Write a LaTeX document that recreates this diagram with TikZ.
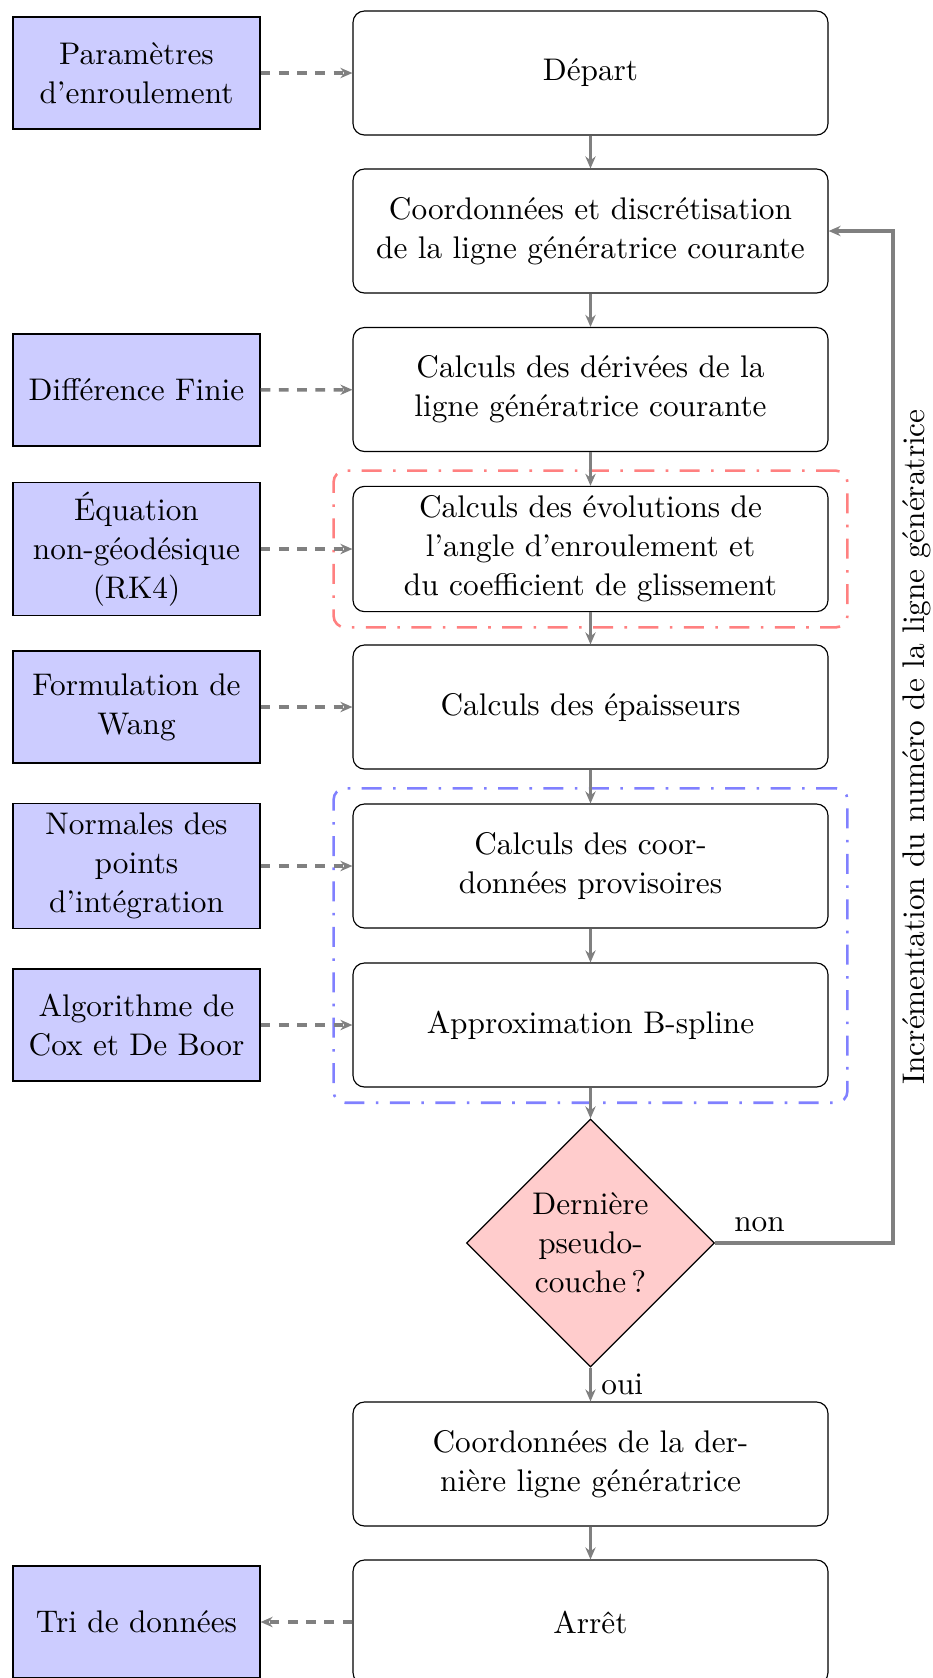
\documentclass[tikz,border=0pt]{standalone}
\usetikzlibrary{arrows.meta,shapes.geometric,fit}
\begin{document}
\begin{tikzpicture}[x=0.35pt,y=-0.35pt,
  every node/.style={font=\fontsize{10.95}{13.6}\selectfont},
  mainbox/.style={draw=black, rounded corners=4pt, minimum width=166.25pt, minimum height=43.4pt, align=center, fill=white},
  sidebox/.style={draw=black, fill=blue!20, minimum width=86.45pt, minimum height=39.2pt, align=center},
  decision/.style={diamond, draw=black, fill=red!20, aspect=1, minimum width=86.8pt, minimum height=86.8pt, inner sep=0pt, align=center},
  flow/.style={draw=gray, line width=1pt, -{Stealth[length=4.2pt,width=3.6pt]}},
  dflow/.style={flow, line width=1.2pt, dash pattern=on 3.4pt off 3pt},
  group/.style={line width=0.9pt, rounded corners=4pt, inner xsep=6.6pt, inner ysep=5.3pt, dash pattern=on 7pt off 4pt on 0.9pt off 4pt}
]
\useasboundingbox (0,0) rectangle (932,1678);

% main column
\node[mainbox] (depart) at (590.5,73) {Départ};
\node[mainbox] (coord) at (590.5,231) {Coordonnées et discrétisation\\de la ligne génératrice courante};
\node[mainbox] (deriv) at (590.5,389.5) {Calculs des dérivées de la\\ligne génératrice courante};
\node[mainbox] (evol) at (590.5,549) {Calculs des évolutions de\\l’angle d’enroulement et\\du coefficient de glissement};
\node[mainbox] (ep) at (590.5,707) {Calculs des épaisseurs};
\node[mainbox] (prov) at (590.5,866) {Calculs des coor-\\données provisoires};
\node[mainbox] (bsp) at (590.5,1025) {Approximation B-spline};
\node[decision] (dec) at (590.5,1243) {Dernière\\pseudo-\\couche\,?};
\node[mainbox] (last) at (590.5,1464) {Coordonnées de la der-\\nière ligne génératrice};
\node[mainbox] (stop) at (590.5,1622) {Arrêt};

% side column
\node[sidebox] (param) at (136.5,73) {Paramètres\\d’enroulement};
\node[sidebox] (diff) at (136.5,390) {Différence Finie};
\node[sidebox] (eq) at (136.5,549) {Équation\\non-géodésique\\(RK4)};
\node[sidebox] (wang) at (136.5,707) {Formulation de\\Wang};
\node[sidebox] (norm) at (136.5,866) {Normales des\\points\\d’intégration};
\node[sidebox] (cox) at (136.5,1025) {Algorithme de\\Cox et De Boor};
\node[sidebox] (tri) at (136.5,1622) {Tri de données};

% groups
\node[group, draw=red!50, fit=(evol)] (g1) {};
\node[group, draw=blue!50, fit=(prov)(bsp)] (g2) {};

% main flow
\draw[flow] (depart) -- (coord);
\draw[flow] (coord) -- (deriv);
\draw[flow] (deriv) -- (evol);
\draw[flow] (evol) -- (ep);
\draw[flow] (ep) -- (prov);
\draw[flow] (prov) -- (bsp);
\draw[flow] (bsp) -- (dec);
\draw[flow] (dec) -- node[right] (oui) {oui} (last);
\draw[flow] (last) -- (stop);

% feedback
\coordinate (fb) at (893,1243);
\draw[flow, line width=1.2pt] (dec.east) -- node[pos=0.25, above] (non) {non} (fb) |- (coord.east);
\node[rotate=90, anchor=north] (inc) at (893,747) {Incrémentation du numéro de la ligne génératrice};

% inputs
\draw[dflow] (param) -- (depart);
\draw[dflow] (diff) -- (deriv);
\draw[dflow] (eq) -- (evol);
\draw[dflow] (wang) -- (ep);
\draw[dflow] (norm) -- (prov);
\draw[dflow] (cox) -- (bsp);
\draw[dflow] (stop) -- (tri);
\end{tikzpicture}
\end{document}
